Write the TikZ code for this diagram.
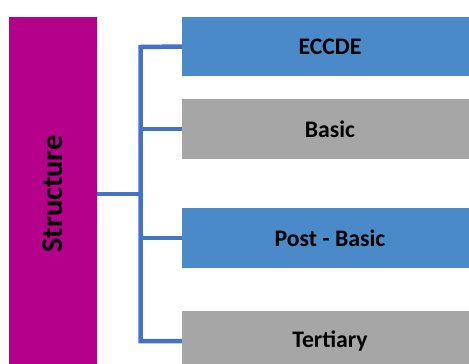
\documentclass[tikz,border=0pt]{standalone}
\usepackage{fontspec}
\setmainfont{Carlito}
\usepackage{xcolor}
\definecolor{rootmagenta}{HTML}{B5008B}
\definecolor{levelblue}{HTML}{4A8AC9}
\definecolor{levelgrey}{HTML}{A6A6A6}
\definecolor{linkblue}{HTML}{4472C4}

\begin{document}
\begin{tikzpicture}[x=1bp, y=-1bp,
    levelbox/.style={minimum width=296bp, minimum height=59.5bp, inner sep=0pt,
      font=\fontsize{23.8}{24}\selectfont\bfseries},
    rootbox/.style={fill=rootmagenta, rotate=90, minimum width=354bp,
      minimum height=88bp, inner sep=0pt, font=\fontsize{30.5}{31}\selectfont\bfseries},
    trunkline/.style={draw=linkblue, line width=4.5bp},
    branchline/.style={draw=linkblue, line width=3.2bp}]
    \useasboundingbox (0,0) rectangle (469,363);
    \clip (0,0) rectangle (469,363);
    % boxes:
    \node[rootbox] (struct) at (53,194) {Structure};
    \node[levelbox, fill=levelblue] (eccde) at (330,46.5) {ECCDE};
    \node[levelbox, fill=levelgrey] (basic) at (330,129) {Basic};
    \node[levelbox, fill=levelblue] (postbasic) at (330,238) {Post - Basic};
    \node[levelbox, fill=levelgrey] (tertiary) at (330,341) {Tertiary};
    % lines:
    \coordinate (top) at (140.5,47);
    \coordinate (bot) at (140.5,341);
    \draw[trunkline] (eccde.west) -- (top) -- (bot) -- (tertiary.west);
    \draw[branchline] (basic.west) -- (basic.west -| top);
    \draw[branchline] (postbasic.west) -- (postbasic.west -| top);
    \draw[branchline] (struct.south) -- (struct.south -| top);
\end{tikzpicture}
\end{document}
